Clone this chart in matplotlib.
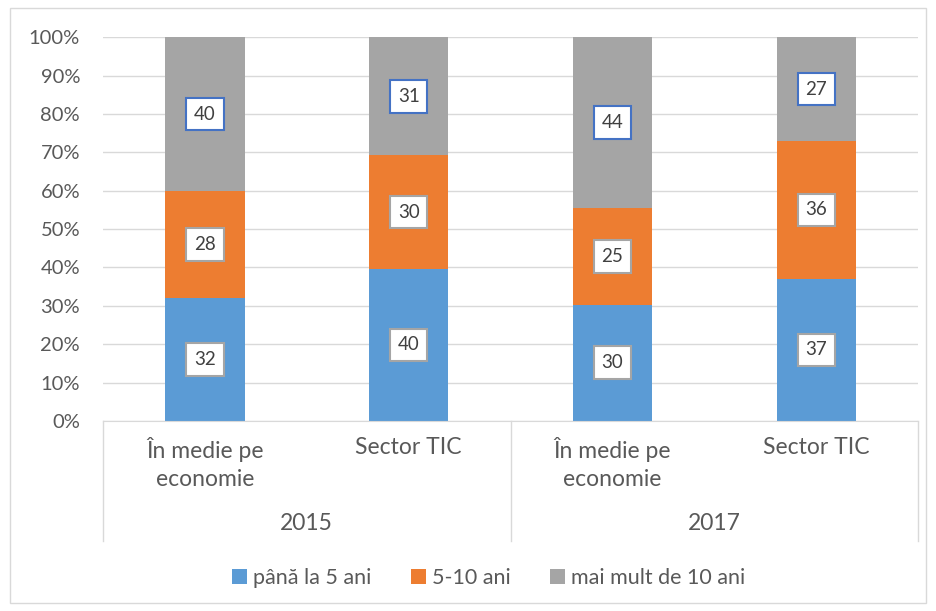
import matplotlib.pyplot as plt
from matplotlib.transforms import blended_transform_factory
from matplotlib.patches import Rectangle

plt.rcParams['font.family'] = ['Lato', 'DejaVu Sans']

categories = ["În medie pe\neconomie", "Sector TIC", "În medie pe\neconomie", "Sector TIC"]
years = ["2015", "2017"]
series = ["până la 5 ani", "5-10 ani", "mai mult de 10 ani"]
under5 = [32, 40, 30, 37]
from5to10 = [28, 30, 25, 36]
over10 = [40, 31, 44, 27]
colors = ["#5B9BD5", "#ED7D31", "#A5A5A5"]
box_edges = ["#A5A5A5", "#A5A5A5", "#4472C4"]
txt = "#595959"

data = [under5, from5to10, over10]
totals = [sum(v) for v in zip(*data)]

fig = plt.figure(figsize=(9.36, 6.11), dpi=100)
ax = fig.add_axes([0.110, 0.311, 0.871, 0.628])
fig.patches.append(Rectangle((10 / 936, 8 / 611), 916 / 936, 595 / 611, transform=fig.transFigure,
                             fill=False, edgecolor="#D9D9D9", linewidth=1))

x = list(range(len(categories)))
bottom = [0.0] * len(x)
for vals, col, name, ec in zip(data, colors, series, box_edges):
    pct = [v / t * 100 for v, t in zip(vals, totals)]
    ax.bar(x, pct, 0.39, bottom=bottom, color=col, label=name, zorder=2)
    for i in x:
        ax.text(i, bottom[i] + pct[i] / 2, str(vals[i]), ha="center", va="center",
                fontsize=13.5, color="#404040", zorder=3,
                bbox=dict(boxstyle="square,pad=0.42", fc="white", ec=ec, lw=1.5))
    bottom = [b + p for b, p in zip(bottom, pct)]

ax.set_xlim(-0.5, 3.5)
ax.set_ylim(0, 100)
ax.set_yticks(range(0, 101, 10))
ax.set_yticklabels([f"{v}%" for v in range(0, 101, 10)])
ax.tick_params(axis="y", length=0, labelsize=14.5, labelcolor=txt, pad=16.5)
ax.set_xticks([])
ax.grid(axis="y", color="#D9D9D9", linewidth=1, zorder=0)
for s in ["top", "right", "left"]:
    ax.spines[s].set_visible(False)
ax.spines["bottom"].set_color("#D9D9D9")

# two-level category axis
tr = blended_transform_factory(ax.transData, fig.transFigure)
for i, c in enumerate(categories):
    ax.text(i, 1 - 437 / 611, c, transform=tr, ha="center", va="top", fontsize=16.5,
            color=txt, linespacing=1.4)
for j, y in enumerate(years):
    ax.text(2 * j + 0.5, 1 - 523 / 611, y, transform=tr, ha="center", va="center",
            fontsize=16.5, color=txt)
for xv in [-0.5, 1.5, 3.5]:
    ax.plot([xv, xv], [1 - 421 / 611, 1 - 541 / 611], transform=tr, color="#D9D9D9",
            linewidth=1, clip_on=False)

fig.legend(loc="center", bbox_to_anchor=(0.522, 1 - 578 / 611), ncol=3, frameon=False,
           fontsize=15.5, labelcolor=txt, handlelength=0.7, handleheight=0.7,
           handletextpad=0.3, columnspacing=1.8)

fig.savefig("out.png", dpi=100)
